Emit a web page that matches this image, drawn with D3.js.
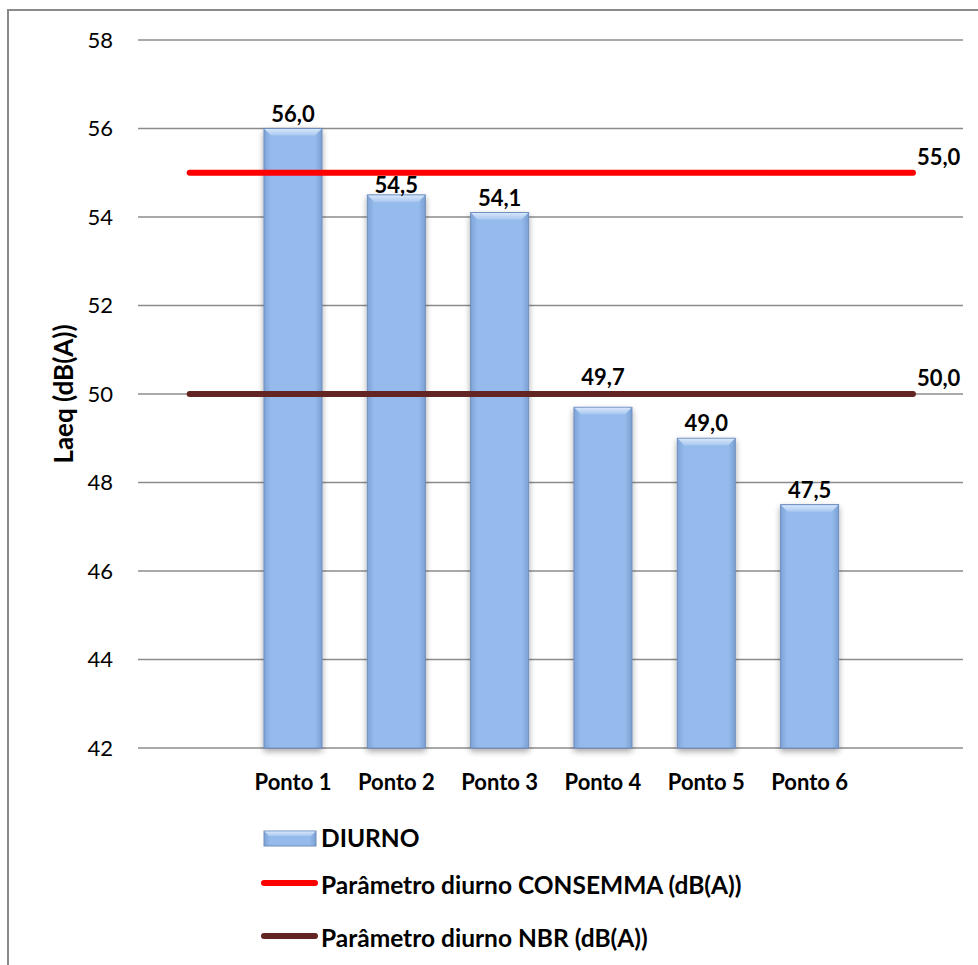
<!DOCTYPE html>
<html><head><meta charset="utf-8">
<script src="https://cdn.jsdelivr.net/npm/d3@7"></script>
<style>
html,body{margin:0;padding:0;background:#fff;}
svg{display:block;font-family:Lato,"Open Sans",sans-serif;}
</style></head>
<body>
<svg id="chart" width="978" height="965"></svg>
<script>
const categories = ["Ponto 1","Ponto 2","Ponto 3","Ponto 4","Ponto 5","Ponto 6"];
const diurno = [56.0, 54.5, 54.1, 49.7, 49.0, 47.5];
const consemma = 55.0;
const nbr = 50.0;
const yTicks = [42,44,46,48,50,52,54,56,58];
const seriesNames = ["DIURNO","Parâmetro diurno CONSEMMA (dB(A))","Parâmetro diurno NBR (dB(A))"];
const yTitle = "Laeq (dB(A))";

const svg = d3.select("#chart");
const pLeft = 138, pRight = 964.6, pTop = 40, pBottom = 748;

// frame
svg.append("rect").attr("x",8).attr("y",10).attr("width",1000).attr("height",1000)
  .attr("fill","none").attr("stroke","#8a8a8a").attr("stroke-width",2);

const slots = ["__s"].concat(categories).concat(["__e"]);
const x = d3.scaleBand().domain(slots).range([pLeft,pRight]).padding(0);
const y = d3.scaleLinear().domain([42,58]).range([pBottom,pTop]);

// defs
const defs = svg.append("defs");
const g1 = defs.append("linearGradient").attr("id","barGrad").attr("x1","0").attr("x2","1").attr("y1","0").attr("y2","0");
g1.append("stop").attr("offset","0").attr("stop-color","#7fa3d6");
g1.append("stop").attr("offset","0.12").attr("stop-color","#95bbec");
g1.append("stop").attr("offset","0.88").attr("stop-color","#95bbec");
g1.append("stop").attr("offset","1").attr("stop-color","#7b9fd2");
const g2 = defs.append("linearGradient").attr("id","bevelGrad").attr("x1","0").attr("x2","0").attr("y1","0").attr("y2","1");
g2.append("stop").attr("offset","0").attr("stop-color","#d6e6fb");
g2.append("stop").attr("offset","1").attr("stop-color","#a9c8f0");
const f = defs.append("filter").attr("id","shadow").attr("x","-20%").attr("y","-5%").attr("width","140%").attr("height","115%");
f.append("feGaussianBlur").attr("in","SourceAlpha").attr("stdDeviation","3");
f.append("feOffset").attr("dx","0").attr("dy","3").attr("result","b");
f.append("feComponentTransfer").append("feFuncA").attr("type","linear").attr("slope","0.35");
const fm = f.append("feMerge"); fm.append("feMergeNode"); fm.append("feMergeNode").attr("in","SourceGraphic");

// gridlines
svg.append("g").selectAll("line").data(yTicks).join("line")
  .attr("x1",pLeft).attr("x2",963).attr("y1",d=>y(d)).attr("y2",d=>y(d))
  .attr("stroke","#8c8c8c").attr("stroke-width",1.5);

// y axis labels
const yAxis = svg.append("g").attr("transform",`translate(${pLeft},0)`)
  .call(d3.axisLeft(y).tickValues(yTicks).tickSize(0).tickPadding(25).tickFormat(d3.format("d")));
yAxis.select(".domain").remove();
yAxis.selectAll("text").attr("font-size",22).attr("fill","#000").attr("font-family","Lato,sans-serif");

// y title
svg.append("text").attr("transform",`translate(73,${(pTop+pBottom)/2}) rotate(-90)`)
  .attr("text-anchor","middle").attr("font-size",26).attr("font-weight","bold").text(yTitle);

// bars
const bw = 58;
const barData = categories.map((c,i)=>({c,v:diurno[i]}));
const bars = svg.append("g").selectAll("g").data(barData).join("g")
  .attr("filter","url(#shadow)");
bars.append("rect")
  .attr("x",d=>x(d.c)+x.bandwidth()/2-bw/2).attr("y",d=>y(d.v))
  .attr("width",bw).attr("height",d=>y(42)-y(d.v))
  .attr("fill","url(#barGrad)").attr("stroke","#6d8dbd").attr("stroke-width",1);
bars.append("path")
  .attr("d",d=>{const x0=x(d.c)+x.bandwidth()/2-bw/2, y0=y(d.v);
    return `M${x0+0.5},${y0+0.5}L${x0+bw-0.5},${y0+0.5}L${x0+bw-7},${y0+7}L${x0+7},${y0+7}Z`;})
  .attr("fill","url(#bevelGrad)");

// reference lines
const refs = [{v:consemma,color:"#ff0000"},{v:nbr,color:"#632523"}];
const xs = x("__s")+x.bandwidth()/2, xe = x("__e")+x.bandwidth()/2;
const lineGen = d3.line().x(d=>d[0]).y(d=>d[1]);
refs.forEach(r=>{
  svg.append("path").attr("d",lineGen([[xs,y(r.v)],[xe,y(r.v)]]))
    .attr("stroke",r.color).attr("stroke-width",6).attr("stroke-linecap","round").attr("fill","none");
  svg.append("text").attr("x",xe+4).attr("y",y(r.v)-8).attr("font-size",22).attr("font-weight","bold")
    .text(d3.format(".1f")(r.v).replace(".",","));
});

// bar labels, nudged away from reference lines like the original
const capH = 15, half = 3;
function labelBaseline(v){
  const barTop = y(v);
  let base = barTop - 7;
  for (const r of refs){
    const ly = y(r.v);
    const tTop = base - capH - 1, tBot = base + 3;
    if (tBot > ly - half && tTop < ly + half){
      const below = ly + half + 2 + capH;
      base = (below <= barTop) ? below : ly - half - 6;
    }
  }
  return base;
}
svg.append("g").selectAll("text").data(barData).join("text")
  .attr("x",d=>x(d.c)+x.bandwidth()/2).attr("y",d=>labelBaseline(d.v))
  .attr("text-anchor","middle").attr("font-size",22).attr("font-weight","bold")
  .text(d=>d3.format(".1f")(d.v).replace(".",","));

// x labels
svg.append("g").selectAll("text").data(categories).join("text")
  .attr("x",d=>x(d)+x.bandwidth()/2).attr("y",790)
  .attr("text-anchor","middle").attr("font-size",22).attr("font-weight","bold").text(d=>d);

// legend
const lg = svg.append("g");
lg.append("rect").attr("x",264).attr("y",831).attr("width",52).attr("height",15)
  .attr("fill","url(#barGrad)").attr("stroke","#6d8dbd");
lg.append("path").attr("d","M264.5,831.5L315.5,831.5L311,836L269,836Z").attr("fill","url(#bevelGrad)");
lg.append("line").attr("x1",264).attr("x2",315).attr("y1",883).attr("y2",883)
  .attr("stroke","#ff0000").attr("stroke-width",6).attr("stroke-linecap","round");
lg.append("line").attr("x1",264).attr("x2",315).attr("y1",936).attr("y2",936)
  .attr("stroke","#632523").attr("stroke-width",6).attr("stroke-linecap","round");
lg.selectAll("text").data(seriesNames).join("text")
  .attr("x",321).attr("y",(d,i)=>[847,894,947][i])
  .attr("font-size",24.5).attr("font-weight","bold").text(d=>d);
</script>
</body></html>
